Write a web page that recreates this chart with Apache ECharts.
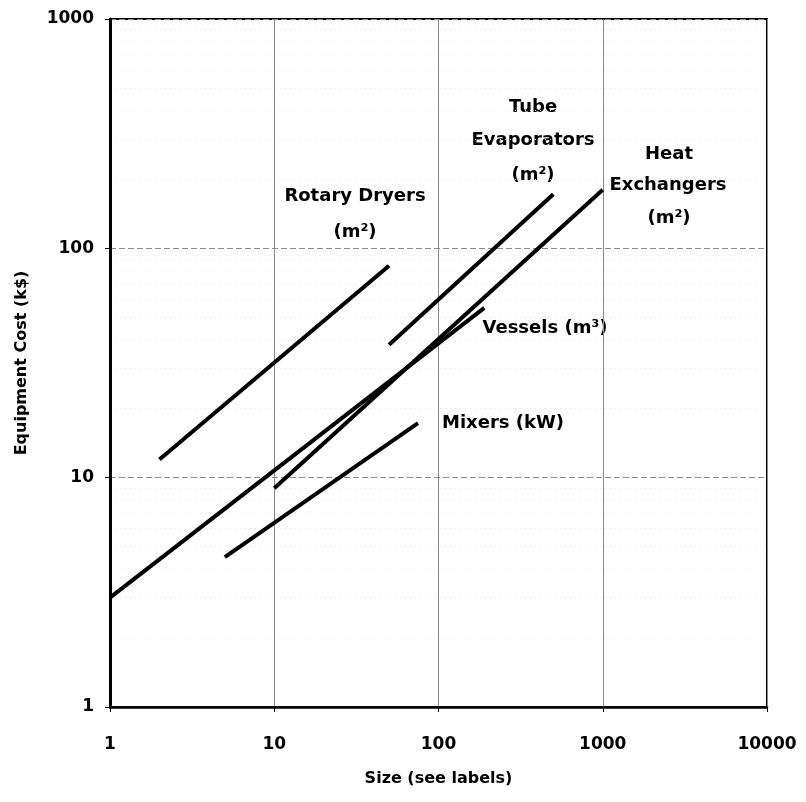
<!DOCTYPE html>
<html>
<head>
<meta charset="utf-8">
<script src="https://cdn.jsdelivr.net/npm/echarts@6/dist/echarts.min.js"></script>
<style>html,body{margin:0;padding:0;background:#fff}#c{width:806px;height:802px}</style>
</head>
<body>
<div id="c"></div>
<script>
// Data (size, cost k$) endpoints
const rotaryDryers = [[2, 12], [50, 84]];
const tubeEvaporators = [[50, 38], [500, 172]];
const heatExchangers = [[10, 9], [1000, 180]];
const vessels = [[1, 3], [190, 55]];
const mixers = [[5, 4.5], [75, 17.3]];
const xTicks = [1, 10, 100, 1000, 10000];
const yTicks = [1, 10, 100, 1000];

const FONT = 'DejaVu Sans';
const chart = echarts.init(document.getElementById('c'));

function lineSeries(name, data) {
  return {
    name: name, type: 'line', data: data, symbol: 'none',
    lineStyle: { color: '#000', width: 4 }, z: 5, silent: true
  };
}
function txt(x, y, text) {
  return {
    type: 'text', x: x, y: y,
    style: { text: text, fill: '#000', font: 'bold 18px "' + FONT + '"', align: 'center', verticalAlign: 'middle' }
  };
}
const plain = v => String(Math.round(v));

chart.setOption({
  animation: false,
  backgroundColor: '#fff',
  grid: { left: 110, top: 19, right: 39, bottom: 95, show: true, borderColor: '#000', borderWidth: 2 },
  xAxis: {
    type: 'log', logBase: 10, min: xTicks[0], max: xTicks[xTicks.length - 1],
    name: 'Size (see labels)', nameLocation: 'middle', nameGap: 64,
    nameTextStyle: { fontFamily: FONT, fontWeight: 'bold', fontSize: 16, color: '#000' },
    axisLine: { lineStyle: { color: '#000', width: 2.5 } },
    axisTick: { show: true, length: 5, lineStyle: { color: '#000' } },
    axisLabel: { fontFamily: FONT, fontWeight: 'bold', fontSize: 17, color: '#000', margin: 29, formatter: plain },
    splitLine: { show: true, lineStyle: { color: '#8a8a8a', width: 1 } },
    minorTick: { show: false }, minorSplitLine: { show: false }
  },
  yAxis: {
    type: 'log', logBase: 10, min: yTicks[0], max: yTicks[yTicks.length - 1],
    name: 'Equipment Cost (k$)', nameLocation: 'middle', nameGap: 80, nameRotate: 90,
    nameTextStyle: { fontFamily: FONT, fontWeight: 'bold', fontSize: 16, color: '#000' },
    axisLine: { lineStyle: { color: '#000', width: 3 } },
    axisTick: { show: true, length: 5, lineStyle: { color: '#000' } },
    axisLabel: { fontFamily: FONT, fontWeight: 'bold', fontSize: 17, color: '#000', margin: 16, formatter: plain },
    splitLine: { show: true, lineStyle: { color: '#8a8a8a', width: 1, type: [6, 3] } },
    minorTick: { show: false, splitNumber: 9 },
    minorSplitLine: { show: true, lineStyle: { color: '#e6e6e6', width: 1, type: [1, 4] } }
  },
  series: [
    lineSeries('Rotary Dryers', rotaryDryers),
    lineSeries('Tube Evaporators', tubeEvaporators),
    lineSeries('Heat Exchangers', heatExchangers),
    lineSeries('Vessels', vessels),
    lineSeries('Mixers', mixers)
  ],
  graphic: [
    txt(355, 196, 'Rotary Dryers'),
    txt(355, 232, '(m²)'),
    txt(533, 107, 'Tube'),
    txt(533, 140, 'Evaporators'),
    txt(533, 175, '(m²)'),
    txt(669, 154, 'Heat'),
    txt(668, 185, 'Exchangers'),
    txt(669, 218, '(m²)'),
    txt(545, 328, 'Vessels (m³)'),
    txt(503, 423, 'Mixers (kW)')
  ]
});
</script>
</body>
</html>
